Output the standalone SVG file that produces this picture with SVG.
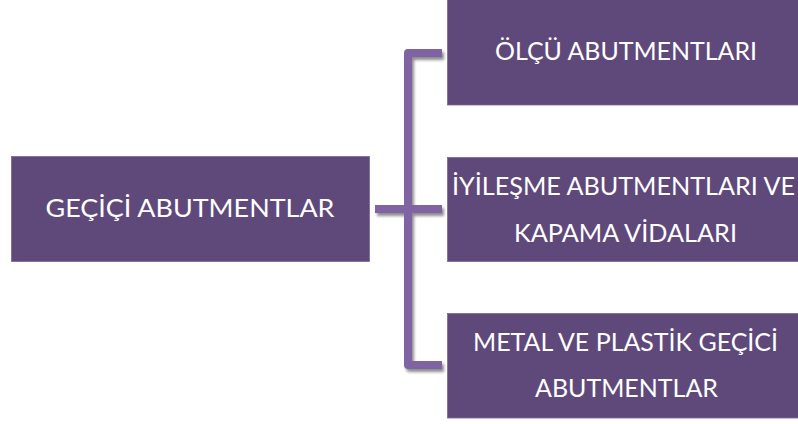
<svg xmlns="http://www.w3.org/2000/svg" width="798" height="424" viewBox="0 0 798 424">
  <style>
    .box { fill: #5F497A; stroke: #7A6893; stroke-width: 0.8; }
    .lbl { fill: #FFFFFF; font-family: Lato, "Open Sans", "Noto Sans", sans-serif; font-size: 25px; text-anchor: middle; }
    .conn { fill: none; stroke: #8064A2; stroke-width: 8; stroke-linejoin: round; stroke-linecap: butt; }
  </style>
  <defs>
    <filter id="sh" x="-20%" y="-20%" width="140%" height="140%">
      <feDropShadow dx="2" dy="3" stdDeviation="1.6" flood-color="#000000" flood-opacity="0.45"/>
    </filter>
  </defs>
  <rect width="798" height="424" fill="#FFFFFF"/>

  <g id="connectors" filter="url(#sh)">
    <path class="conn" d="M442,53 H408 V365 H442"/>
    <path class="conn" d="M375,209 H442"/>
  </g>

  <g id="node-root">
    <rect class="box" x="11.5" y="156.5" width="358" height="105"/>
    <text class="lbl" x="190" y="217" textLength="289" lengthAdjust="spacingAndGlyphs">GEÇİÇİ ABUTMENTLAR</text>
  </g>

  <g id="node-olcu">
    <rect class="box" x="447.5" y="-1" width="360" height="106"/>
    <text class="lbl" x="626" y="60" textLength="262" lengthAdjust="spacingAndGlyphs">ÖLÇÜ ABUTMENTLARI</text>
  </g>

  <g id="node-iyilesme">
    <rect class="box" x="447.5" y="157.5" width="360" height="104"/>
    <text class="lbl" x="623.5" y="195" textLength="343" lengthAdjust="spacingAndGlyphs">İYİLEŞME ABUTMENTLARI VE</text>
    <text class="lbl" x="625.5" y="241.5" textLength="223" lengthAdjust="spacingAndGlyphs">KAPAMA VİDALARI</text>
  </g>

  <g id="node-metal">
    <rect class="box" x="447.5" y="313.5" width="360" height="104.5"/>
    <text class="lbl" x="625.5" y="351" textLength="305" lengthAdjust="spacingAndGlyphs">METAL VE PLASTİK GEÇİCİ</text>
    <text class="lbl" x="626.5" y="397" textLength="183" lengthAdjust="spacingAndGlyphs">ABUTMENTLAR</text>
  </g>
</svg>
